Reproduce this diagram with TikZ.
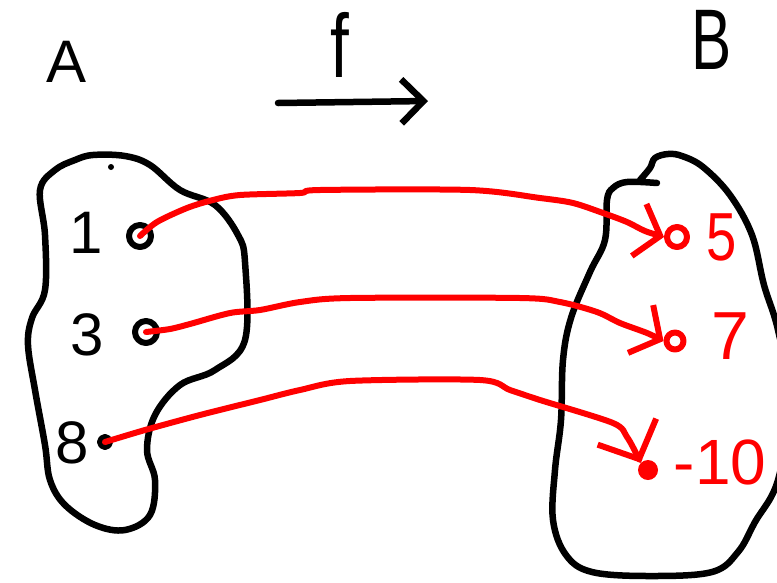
\documentclass[tikz,border=0pt]{standalone}
\usepackage{fontspec}
\setmainfont{Liberation Sans}
\usetikzlibrary{arrows.meta}
\begin{document}
\begin{tikzpicture}[x=1pt,y=-1pt, line cap=round, line join=round,
  blob/.style={draw=black, line width=6.5pt},
  lab/.style={font=\fontsize{60}{60}\selectfont, inner sep=0pt},
  rlab/.style={font=\fontsize{68}{68}\selectfont, inner sep=0pt, text=red},
  dotb/.style={circle, draw=black, line width=6pt, minimum size=22pt, inner sep=0pt},
  dotr/.style={circle, draw=red, line width=6pt, minimum size=20pt, inner sep=0pt},
  map/.style={draw=red, line width=6pt, -{Straight Barb[length=22pt,width=54pt,line width=6pt]}}]
\useasboundingbox (0,0) rectangle (777,582);
\clip (0,0) rectangle (777,582);

% titles
\node[lab] (A) at (67,62) {A};
\node[lab, font=\fontsize{90}{90}\selectfont] (f) at (340,45) {\scalebox{0.75}[1]{f}};
\node[lab, font=\fontsize{86}{86}\selectfont] (B) at (712,40) {\scalebox{0.7}[1]{B}};
\coordinate (fs) at (278,103);
\coordinate (fe) at (428,101);
\draw[line width=6.5pt, -{Straight Barb[length=22pt,width=44pt,line width=6.5pt]}] (fs) -- (fe);

% blob A
\draw[blob] plot[smooth cycle, tension=0.6] coordinates {
  (93,155) (125,156) (150,165) (180,190) (215,205) (238,235) (245,262)
  (245,340) (215,370) (180,385) (155,415) (147,450) (155,480) (150,515)
  (125,530) (95,525) (65,505) (50,480) (45,445) (35,390) (28,345)
  (32,318) (45,290) (45,235) (40,190) (55,170) (75,160)};
\fill (111,167) circle (3pt);

% blob B
\draw[blob] plot[smooth, tension=0.6] coordinates {
  (640,180) (650,168) (655,158) (668,154) (682,156) (703,167) (730,195)
  (752,235) (764,285) (778,330) (790,400) (778,480) (755,522) (738,552)
  (712,572) (650,576) (592,572) (566,555) (553,520) (555,470) (561,420)
  (563,360) (571,318) (590,272) (605,240) (607,200) (613,188) (627,182) (657,183)};

% elements of A
\node[lab] (n1) at (86,233) {1};
\node[lab] (n3) at (87,335) {3};
\node[lab] (n8) at (72,443) {8};
\node[dotb] (a1) at (140,236) {};
\node[dotb] (a2) at (146,332) {};
\node[dotb, minimum size=10pt] (a3) at (105,442) {};

% elements of B
\node[rlab] (n5) at (722,237) {\scalebox{0.8}[1]{5}};
\node[rlab] (n7) at (730,336) {7};
\node[rlab, font=\fontsize{64}{64}\selectfont] (n10) at (720,462) {-10};
\node[dotr] (b1) at (677,237) {};
\node[dotr, minimum size=17pt] (b2) at (675,341) {};
\node[circle, fill=red, minimum size=20pt, inner sep=0pt] (b3) at (648,470) {};

% mapping arrows
\draw[map] plot[smooth, tension=0.5] coordinates {
  (a1.center) (157,222) (187,208) (213,200) (240,195) (300,193) (320,190)
  (470,190) (540,198) (573,203) (603,213) (627,222) (645,231) (b1.west)};
\draw[map] plot[smooth, tension=0.5] coordinates {
  (a2.center) (170,329) (190,324) (230,313) (260,310) (300,302) (350,298)
  (520,298) (560,302) (597,312) (620,323) (647,333) (b2.west)};
\draw[map, -{Straight Barb[length=30pt,width=64pt,line width=6pt]}] plot[smooth, tension=0.5] coordinates {
  (a3.center) (145,430) (200,415) (260,400) (300,390) (350,381) (480,380)
  (510,390) (540,400) (613,423) (627,437) (637,455) (b3.north west)};
\end{tikzpicture}
\end{document}
